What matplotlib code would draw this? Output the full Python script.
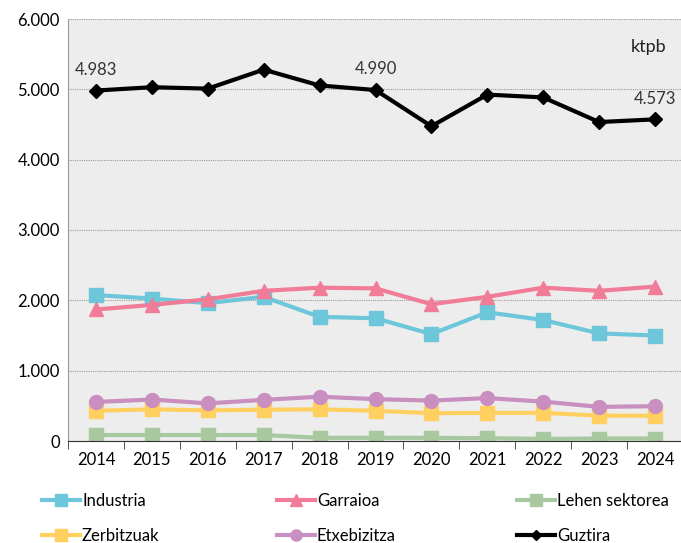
import numpy as np
import matplotlib.pyplot as plt
from matplotlib.ticker import FuncFormatter, MultipleLocator

plt.rcParams['font.family'] = ['Lato', 'DejaVu Sans']

years = ['2014', '2015', '2016', '2017', '2018', '2019', '2020', '2021', '2022', '2023', '2024']
industria = [2075, 2025, 1960, 2050, 1765, 1745, 1520, 1830, 1720, 1530, 1500]
garraioa = [1870, 1935, 2015, 2135, 2180, 2170, 1945, 2050, 2180, 2135, 2195]
lehen = [85, 85, 85, 85, 45, 45, 45, 40, 30, 35, 35]
zerbitzuak = [430, 450, 435, 445, 450, 430, 395, 400, 400, 360, 360]
etxebizitza = [555, 590, 535, 585, 630, 595, 575, 610, 560, 485, 495]
guztira = [4983, 5030, 5010, 5280, 5055, 4990, 4475, 4925, 4885, 4535, 4573]
labelled = {0: '4.983', 5: '4.990', 10: '4.573'}

x = np.arange(len(years))

fig = plt.figure(figsize=(6.81, 5.43), dpi=100)
ax = fig.add_axes([68/681, 102/543, 615/681, 422/543])
ax.set_facecolor('#EDEDED')

h_ind, = ax.plot(x, industria, color='#6EC6DA', lw=3, marker='s', ms=10, label='Industria')
h_zer, = ax.plot(x, zerbitzuak, color='#FFD060', lw=3, marker='s', ms=10, label='Zerbitzuak')
h_gar, = ax.plot(x, garraioa, color='#F07C98', lw=3, marker='^', ms=10, label='Garraioa')
h_etx, = ax.plot(x, etxebizitza, color='#C98FC0', lw=3, marker='o', ms=10, label='Etxebizitza')
h_leh, = ax.plot(x, lehen, color='#A8C8A0', lw=3, marker='s', ms=10, label='Lehen sektorea')
h_guz, = ax.plot(x, guztira, color='black', lw=3, marker='D', ms=7, label='Guztira')

for i, txt in labelled.items():
    ax.text(x[i], guztira[i] + 180, txt, ha='center', va='bottom', fontsize=12, color='#333333')
ax.text(10.2, 5600, 'ktpb', ha='right', va='center', fontsize=13, color='#222222')

ax.set_xlim(-0.5, len(years) - 0.5)
ax.set_ylim(0, 6000)
ax.yaxis.set_major_locator(MultipleLocator(1000))
ax.yaxis.set_major_formatter(FuncFormatter(lambda v, p: f'{int(v):,}'.replace(',', '.')))
ax.grid(axis='y', color='#999999', ls=(0, (1, 1)), lw=0.8)
ax.set_axisbelow(True)

ax.set_xticks(x)
ax.set_xticklabels(years)
ax.set_xticks(np.arange(-0.5, len(years)), minor=True)
ax.tick_params(axis='x', which='major', length=0, pad=8, labelsize=12)
ax.tick_params(axis='x', which='minor', length=6, color='#333333')
ax.tick_params(axis='y', length=0, pad=6, labelsize=12)

ax.spines['top'].set_visible(False)
ax.spines['right'].set_visible(False)
ax.spines['left'].set_color('#999999')
ax.spines['bottom'].set_color('#333333')

for hs, x0 in [((h_ind, h_zer), 32), ((h_gar, h_etx), 267), ((h_leh, h_guz), 507)]:
    fig.legend(handles=list(hs), loc='lower left', bbox_to_anchor=(x0/681, -0.02),
               ncol=1, frameon=False, fontsize=12, handlelength=2.3, handletextpad=0.1,
               labelspacing=1.15, markerscale=0.8, borderaxespad=0.2)

fig.savefig('out.png', dpi=100)
